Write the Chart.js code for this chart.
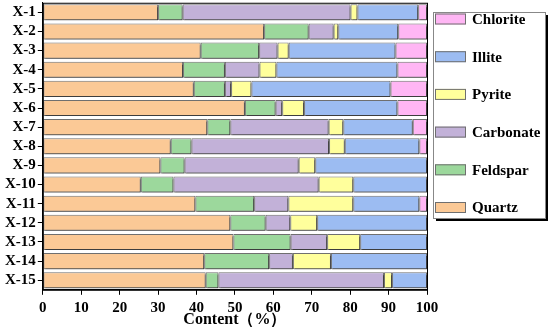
<!DOCTYPE html>
<html>
<head>
<meta charset="utf-8">
<script src="https://cdn.jsdelivr.net/npm/chart.js@4/dist/chart.umd.min.js"></script>
<style>
  html, body { margin: 0; padding: 0; background: #fff; }
  #wrap { width: 550px; height: 332px; }
</style>
</head>
<body>
<div id="wrap"><canvas id="grafico" width="550" height="332"></canvas></div>
<script>
// datos (%)
const categorias = ['X-1', 'X-2', 'X-3', 'X-4', 'X-5', 'X-6', 'X-7', 'X-8', 'X-9', 'X-10', 'X-11', 'X-12', 'X-13', 'X-14', 'X-15'];
const quartz    = [30.0, 57.6, 41.1, 36.5, 39.3, 52.6, 42.8, 33.3, 30.6, 25.5, 39.7, 48.8, 49.6, 42.0, 42.4];
const feldspar  = [6.4, 11.6, 15.2, 10.9, 8.1, 8.0, 6.0, 5.4, 6.3, 8.5, 15.3, 9.2, 14.9, 16.9, 3.3];
const carbonate = [43.7, 6.5, 4.8, 9.0, 1.6, 1.7, 25.6, 35.8, 29.7, 37.8, 8.9, 6.4, 9.5, 6.2, 43.1];
const pyrite    = [1.8, 1.2, 2.9, 4.4, 5.3, 5.7, 3.8, 4.1, 4.3, 9.0, 16.9, 7.0, 8.6, 9.9, 2.1];
const illite    = [15.8, 15.6, 27.8, 31.5, 36.2, 24.3, 18.1, 19.4, 29.1, 19.2, 17.2, 28.6, 17.4, 25.0, 9.1];
const chlorite  = [2.3, 7.5, 8.2, 7.7, 9.5, 7.7, 3.7, 2.0, 0, 0, 2.0, 0, 0, 0, 0];
const ticksX = [0, 10, 20, 30, 40, 50, 60, 70, 80, 90, 100];

const fuente = "'Liberation Serif', 'Times New Roman', serif";

function serie(label, data, color) {
    return {
        label: label,
        data: data,
        backgroundColor: color,
        borderColor: '#6f6f6f',
        borderWidth: 1,
        borderSkipped: false,
        barPercentage: 0.84,
        categoryPercentage: 1.0
    };
}

// marco del area y sombra de las barras
const marco = {
    id: 'marco',
    beforeDatasetsDraw(chart) {
        const ctx = chart.ctx;
        ctx.save();
        ctx.shadowColor = 'rgba(0,0,0,0.45)';
        ctx.shadowOffsetX = 1;
        ctx.shadowOffsetY = 2;
        ctx.shadowBlur = 0;
    },
    afterDatasetsDraw(chart) {
        chart.ctx.restore();
        const a = chart.chartArea;
        const ctx = chart.ctx;
        ctx.save();
        ctx.strokeStyle = '#000';
        ctx.lineWidth = 1;
        ctx.strokeRect(a.left + 0.5, a.top + 0.5, a.right - a.left, a.bottom - a.top);
        ctx.restore();
    }
};

// leyenda con marco y sombra
const leyenda = {
    id: 'leyenda',
    afterDraw(chart) {
        const ctx = chart.ctx;
        const x = 433, y = 12, w = 112, h = 206;
        ctx.save();
        ctx.fillStyle = '#000';
        ctx.fillRect(x + 3, y + 3, w, h);
        ctx.fillStyle = '#fff';
        ctx.fillRect(x, y, w, h);
        ctx.strokeStyle = '#888';
        ctx.lineWidth = 1;
        ctx.strokeRect(x + 0.5, y + 0.5, w, h);
        const ds = chart.data.datasets.slice().reverse();
        ctx.font = 'bold 15px ' + fuente;
        ctx.textBaseline = 'middle';
        ds.forEach((d, i) => {
            const cy = 19 + i * 37.7;
            ctx.fillStyle = d.backgroundColor;
            ctx.fillRect(x + 2, cy - 5.5, 31, 11);
            ctx.strokeStyle = '#6f6f6f';
            ctx.strokeRect(x + 2.5, cy - 5, 30, 10);
            ctx.fillStyle = '#000';
            ctx.fillText(d.label, x + 39, cy + 1);
        });
        ctx.restore();
    }
};

var ctx = document.getElementById('grafico').getContext('2d');
var myChart = new Chart(ctx, {
    type: 'bar',
    data: {
        labels: categorias,
        datasets: [
            serie('Quartz', quartz, '#FBC996'),
            serie('Feldspar', feldspar, '#9CD89C'),
            serie('Carbonate', carbonate, '#C2B1D8'),
            serie('Pyrite', pyrite, '#FFFF9C'),
            serie('Illite', illite, '#9CBCF2'),
            serie('Chlorite', chlorite, '#FFB6F4')
        ]
    },
    options: {
        indexAxis: 'y',
        responsive: false,
        animation: false,
        layout: { padding: { left: 3, right: 123, top: 1, bottom: 3 } },
        plugins: {
            legend: { display: false },
            tooltip: { enabled: false }
        },
        scales: {
            x: {
                stacked: true,
                min: 0,
                max: 100,
                afterBuildTicks: (s) => { s.ticks = ticksX.map(v => ({ value: v })); },
                border: { color: '#000', width: 1 },
                grid: { drawOnChartArea: false, tickLength: 5, color: '#000' },
                ticks: { color: '#000', padding: 4, font: { family: fuente, size: 15, weight: 'bold' } },
                title: {
                    display: true,
                    text: 'Content（%）',
                    color: '#000',
                    padding: { top: -11, bottom: 0 },
                    font: { family: fuente, size: 16, weight: 'bold' }
                }
            },
            y: {
                stacked: true,
                border: { color: '#000', width: 1 },
                grid: { drawOnChartArea: false, offset: false, tickLength: 5, color: '#000' },
                ticks: { color: '#000', padding: 2, autoSkip: false, font: { family: fuente, size: 15, weight: 'bold', lineHeight: 0.1 } }
            }
        }
    },
    plugins: [marco, leyenda]
});
</script>
</body>
</html>
